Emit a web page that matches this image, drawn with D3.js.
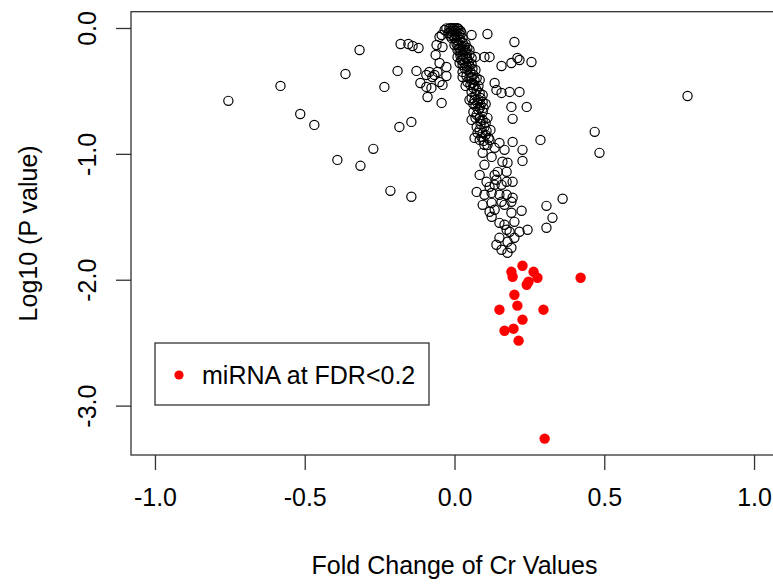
<!DOCTYPE html>
<html>
<head>
<meta charset="utf-8">
<script src="https://cdn.jsdelivr.net/npm/d3@7"></script>
<style>
  body { margin: 0; background: #fff; }
  text { font-family: Arial, 'Liberation Sans', sans-serif; }
</style>
</head>
<body>
<div id="chart"></div>
<script>
// miRNA not significant: fold change / log10 p
const nsFold = [
  -0.755, -0.581, -0.515, -0.468, -0.391, -0.364, -0.317, -0.314, -0.271, -0.234,
  -0.214, -0.190, -0.184, -0.180, -0.154, -0.140, -0.120, -0.144, -0.144, -0.127,
  -0.094, -0.114, -0.077, -0.090, -0.063,
  -0.043, -0.050, -0.027, -0.074, -0.043, -0.040, -0.027, -0.057, -0.040, -0.027,
  -0.033, -0.050, -0.060, -0.084, -0.067, -0.050, -0.094,
  0.110, 0.200, 0.100, 0.117, 0.157, 0.190, 0.210, 0.217, 0.257, 0.057,
  0.070, 0.027, 0.027, 0.057, 0.067, 0.134, 0.140, 0.157, 0.184, 0.217,
  0.190, 0.241, 0.194, 0.287,
  0.084, 0.117, 0.150, 0.194, 0.227, 0.227, 0.094, 0.124, 0.160, 0.177,
  0.144, 0.174, 0.140, 0.107, 0.117, 0.174, 0.194, 0.074, 0.134, 0.157,
  0.124, 0.150, 0.174, 0.194, 0.124, 0.157, 0.190, 0.117, 0.190, 0.224,
  0.124, 0.150, 0.174, 0.184, 0.217, 0.244, 0.177, 0.140, 0.157, 0.190,
  0.177, 0.100, 0.084, 0.134, 0.100, 0.094, 0.167, 0.134, 0.150, 0.200,
  0.167, 0.200, 0.134, 0.167, 0.100,
  0.778, 0.468, 0.484, 0.307, 0.327, 0.307, 0.361,
  -0.017, -0.007, 0.000, 0.007, 0.013, 0.020, -0.010, 0.003, 0.017, 0.000,
  0.010, 0.020, 0.027, 0.033, 0.043, -0.010, 0.007, 0.017, 0.017, 0.027,
  0.037, 0.047, 0.057, 0.010, 0.023, 0.033, 0.033, 0.043, 0.053, 0.063,
  0.074, 0.040, 0.043, 0.053, 0.063, 0.074, 0.084, 0.094, 0.057, 0.057,
  0.067, 0.077, 0.087, 0.097, 0.070, 0.063, 0.074, 0.084, 0.094, 0.104,
  0.080, 0.074, 0.084, 0.094, 0.104, 0.114, 0.087,
  0.000, 0.023, 0.050, 0.037,
  -0.013, -0.003, 0.010, 0.023, -0.020, -0.007, 0.007, 0.013, 0.023, 0.030,
  0.040, 0.020, 0.030, 0.043, 0.050, 0.040, 0.060, 0.050, 0.067, 0.060,
  0.080, 0.070, 0.087, 0.080, 0.094, 0.063, 0.084, 0.094, 0.070, 0.087,
  0.100, 0.077, 0.090, 0.107, 0.097, 0.110,
  0.003, -0.013, 0.027, 0.010, 0.037, 0.050, 0.017, 0.057, 0.027, 0.070,
  0.037, 0.084, 0.050, 0.104, 0.057, 0.110, 0.067, 0.120
]
const nsLogP = [
  -0.579, -0.460, -0.683, -0.770, -1.048, -0.365, -0.175, -1.095, -0.960, -0.468,
  -1.294, -0.341, -0.786, -0.127, -0.127, -0.143, -0.159, -1.341, -0.746, -0.341,
  -0.373, -0.437, -0.476, -0.548, -0.214,
  -0.056, -0.278, -0.310, -0.389, -0.595, -0.452, -0.381, -0.349, -0.151, -0.003,
  -0.016, -0.071, -0.135, -0.349, -0.373, -0.429, -0.468,
  -0.048, -0.111, -0.230, -0.230, -0.302, -0.278, -0.238, -0.254, -0.270, -0.056,
  -0.230, -0.294, -0.389, -0.389, -0.452, -0.437, -0.492, -0.516, -0.508, -0.508,
  -0.627, -0.627, -0.722, -0.889,
  -0.889, -0.889, -0.913, -0.905, -0.968, -1.056, -0.992, -1.024, -1.063, -1.071,
  -1.143, -1.143, -1.206, -1.222, -1.262, -1.222, -1.222, -1.302, -1.246, -1.246,
  -1.310, -1.325, -1.325, -1.349, -1.389, -1.381, -1.381, -1.460, -1.468, -1.452,
  -1.500, -1.548, -1.603, -1.619, -1.619, -1.603, -1.698, -1.722, -1.762, -1.746,
  -1.786, -1.087, -1.167, -1.167, -1.325, -1.405, -1.405, -1.444, -1.667, -1.667,
  -1.563, -1.540, -0.952, -0.968, -0.929,
  -0.540, -0.825, -0.992, -1.413, -1.508, -1.587, -1.357,
  -0.004, -0.002, -0.001, -0.003, -0.008, -0.024, -0.024, -0.024, -0.048, -0.079,
  -0.063, -0.095, -0.119, -0.143, -0.159, -0.079, -0.127, -0.159, -0.190, -0.214,
  -0.238, -0.270, -0.286, -0.230, -0.254, -0.278, -0.317, -0.333, -0.349, -0.373,
  -0.397, -0.381, -0.429, -0.452, -0.476, -0.492, -0.516, -0.532, -0.508, -0.556,
  -0.571, -0.595, -0.611, -0.635, -0.619, -0.667, -0.690, -0.714, -0.730, -0.754,
  -0.651, -0.786, -0.810, -0.833, -0.849, -0.873, -0.762,
  -0.135, -0.175, -0.214, -0.175,
  -0.001, -0.008, -0.001, -0.040, -0.040, -0.056, -0.095, -0.135, -0.143, -0.175,
  -0.198, -0.222, -0.246, -0.246, -0.302, -0.302, -0.325, -0.397, -0.413, -0.437,
  -0.460, -0.532, -0.556, -0.571, -0.587, -0.603, -0.635, -0.667, -0.714, -0.738,
  -0.786, -0.833, -0.865, -0.817, -0.897, -0.929,
  -0.048, -0.063, -0.079, -0.175, -0.127, -0.175, -0.278, -0.238, -0.349, -0.333,
  -0.460, -0.413, -0.571, -0.603, -0.730, -0.714, -0.873, -0.810
]
// miRNA at FDR<0.2
const sigFold = [0.190, 0.227, 0.194, 0.264, 0.277, 0.247, 0.241, 0.421, 0.200, 0.210,
  0.150, 0.297, 0.227, 0.167, 0.197, 0.214, 0.301]
const sigLogP = [-1.937, -1.889, -1.976, -1.937, -1.984, -2.016, -2.040, -1.984, -2.119, -2.206,
  -2.238, -2.238, -2.317, -2.405, -2.389, -2.484, -3.262]

const xTicks = [-1.0, -0.5, 0.0, 0.5, 1.0]
const yTicks = [0.0, -1.0, -2.0, -3.0]
const xTitle = 'Fold Change of Cr Values'
const yTitle = 'Log10 (P value)'
const legendLabel = 'miRNA at FDR<0.2'

let _width = 773
let _height = 584
let margin = { left: 131, right: -5, top: 11.7, bottom: 129 }
let fontSize = '25px'

let svg = d3.select('#chart')
  .append('svg')
  .attr('width', _width)
  .attr('height', _height)

// R style: 4% padding around the limits
let xlim = [-1, 1]
let yAll = nsLogP.concat(sigLogP)
let ylim = d3.extent(yAll)
let xpad = (xlim[1] - xlim[0]) * 0.04
let ypad = (ylim[1] - ylim[0]) * 0.04

let x = d3.scaleLinear()
  .domain([xlim[0] - xpad, xlim[1] + xpad])
  .range([margin.left, _width - margin.right])
let y = d3.scaleLinear()
  .domain([ylim[0] - ypad, ylim[1] + ypad])
  .range([_height - margin.bottom, margin.top])

// plain hyphen like R, not the unicode minus
let fmt = d => d.toFixed(1)

/* axes */
let xAxis = svg.append('g')
  .attr('transform', 'translate(0,' + (_height - margin.bottom) + ')')
  .call(d3.axisBottom(x).tickValues(xTicks).tickFormat(fmt).tickSize(15).tickSizeOuter(0))
xAxis.select('.domain').remove()
xAxis.selectAll('line').attr('stroke', '#333').attr('stroke-width', 1.3)
xAxis.selectAll('text')
  .attr('y', 42)
  .attr('dy', '0.35em')
  .style('font-size', fontSize)
  .attr('fill', '#000')

let yAxis = svg.append('g')
  .attr('transform', 'translate(' + margin.left + ',0)')
  .call(d3.axisLeft(y).tickValues(yTicks).tickFormat(fmt).tickSize(15).tickSizeOuter(0))
yAxis.select('.domain').remove()
yAxis.selectAll('line').attr('stroke', '#333').attr('stroke-width', 1.3)
yAxis.selectAll('text')
  .attr('x', null)
  .attr('dy', '0.35em')
  .attr('text-anchor', 'middle')
  .attr('transform', 'translate(-44,0) rotate(-90)')
  .style('font-size', fontSize)
  .attr('fill', '#000')

/* box */
svg.append('rect')
  .attr('x', margin.left)
  .attr('y', margin.top)
  .attr('width', _width - margin.right - margin.left)
  .attr('height', _height - margin.bottom - margin.top)
  .attr('fill', 'none')
  .attr('stroke', '#333')
  .attr('stroke-width', 1.3)

/* titles */
svg.append('text')
  .attr('x', (margin.left + _width - margin.right) / 2)
  .attr('y', 565)
  .attr('dy', '0.35em')
  .attr('text-anchor', 'middle')
  .style('font-size', fontSize)
  .text(xTitle)

svg.append('text')
  .attr('transform', 'translate(28,' + (margin.top + _height - margin.bottom) / 2 + ') rotate(-90)')
  .attr('dy', '0.35em')
  .attr('text-anchor', 'middle')
  .style('font-size', fontSize)
  .text(yTitle)

/* points */
let plot = svg.append('g')
plot.selectAll('.ns')
  .data(d3.range(nsFold.length))
  .enter()
  .append('circle')
  .attr('class', 'ns')
  .attr('cx', i => x(nsFold[i]))
  .attr('cy', i => y(nsLogP[i]))
  .attr('r', 4.6)
  .attr('fill', 'none')
  .attr('stroke', '#000')
  .attr('stroke-width', 1.2)

plot.selectAll('.sig')
  .data(d3.range(sigFold.length))
  .enter()
  .append('circle')
  .attr('class', 'sig')
  .attr('cx', i => x(sigFold[i]))
  .attr('cy', i => y(sigLogP[i]))
  .attr('r', 5.2)
  .attr('fill', '#ff0000')

/* legend */
let legend = svg.append('g').attr('transform', 'translate(155,343)')
legend.append('rect')
  .attr('width', 274)
  .attr('height', 62)
  .attr('fill', '#fff')
  .attr('stroke', '#333')
  .attr('stroke-width', 1.3)
legend.append('circle')
  .attr('cx', 24)
  .attr('cy', 32)
  .attr('r', 4.6)
  .attr('fill', '#ff0000')
legend.append('text')
  .attr('x', 47)
  .attr('y', 32)
  .attr('dy', '0.35em')
  .style('font-size', fontSize)
  .text(legendLabel)
</script>
</body>
</html>
